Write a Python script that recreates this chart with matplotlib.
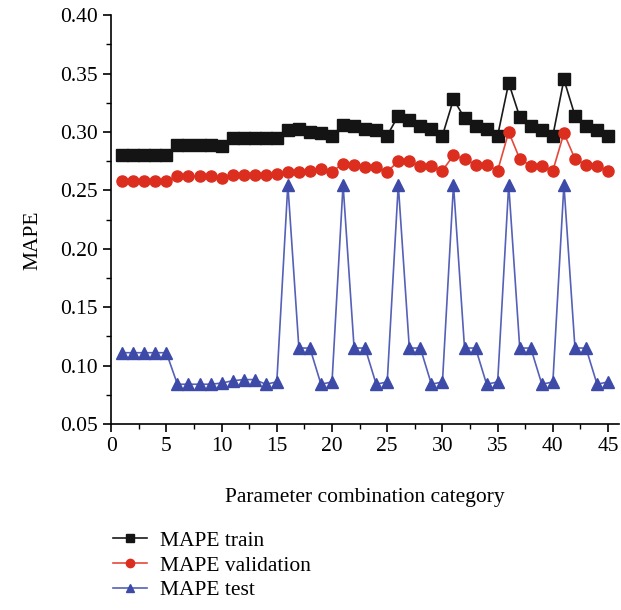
import matplotlib.pyplot as plt
from matplotlib.ticker import MultipleLocator

plt.rcParams['font.family'] = ['Liberation Serif', 'DejaVu Serif']

# Dados
categoria = list(range(1, 46))

mape_train = [0.280, 0.280, 0.280, 0.280, 0.280,
              0.289, 0.289, 0.289, 0.289, 0.288,
              0.295, 0.295, 0.295, 0.295, 0.295,
              0.302, 0.303, 0.300, 0.299, 0.297,
              0.306, 0.305, 0.303, 0.302, 0.297,
              0.314, 0.310, 0.305, 0.303, 0.297,
              0.328, 0.312, 0.305, 0.303, 0.297,
              0.342, 0.313, 0.305, 0.302, 0.297,
              0.345, 0.314, 0.305, 0.302, 0.297]

mape_val = [0.258, 0.258, 0.258, 0.258, 0.258,
            0.262, 0.262, 0.262, 0.262, 0.261,
            0.263, 0.263, 0.263, 0.263, 0.264,
            0.266, 0.266, 0.267, 0.268, 0.266,
            0.273, 0.272, 0.270, 0.270, 0.266,
            0.275, 0.275, 0.271, 0.271, 0.267,
            0.280, 0.277, 0.272, 0.272, 0.267,
            0.300, 0.277, 0.271, 0.271, 0.267,
            0.299, 0.277, 0.272, 0.271, 0.267]

mape_test = [0.111, 0.111, 0.111, 0.111, 0.111,
             0.084, 0.084, 0.084, 0.084, 0.085,
             0.087, 0.088, 0.088, 0.084, 0.086,
             0.255, 0.115, 0.115, 0.084, 0.086,
             0.255, 0.115, 0.115, 0.084, 0.086,
             0.255, 0.115, 0.115, 0.084, 0.086,
             0.255, 0.115, 0.115, 0.084, 0.086,
             0.255, 0.115, 0.115, 0.084, 0.086,
             0.255, 0.115, 0.115, 0.084, 0.086]

fig = plt.figure(figsize=(6.21, 6.10), dpi=100)
ax = fig.add_axes([0.179, 0.305, 0.818, 0.670])

ax.plot(categoria, mape_train, color='#1a1a1a', lw=1.2, marker='s', ms=8,
        mfc='#141414', mec='#141414', label='MAPE train')
ax.plot(categoria, mape_val, color='#e5493a', lw=1.2, marker='o', ms=8,
        mfc='#dc2e1e', mec='#dc2e1e', label='MAPE validation')
ax.plot(categoria, mape_test, color='#5560b8', lw=1.2, marker='^', ms=8.5,
        mfc='#3d4aa8', mec='#3d4aa8', label='MAPE test')

ax.set_xlim(0, 46)
ax.set_ylim(0.05, 0.40)
ax.xaxis.set_major_locator(MultipleLocator(5))
ax.xaxis.set_minor_locator(MultipleLocator(2.5))
ax.yaxis.set_major_locator(MultipleLocator(0.05))
ax.yaxis.set_minor_locator(MultipleLocator(0.025))
ax.yaxis.set_major_formatter(plt.FormatStrFormatter('%.2f'))

ax.spines['top'].set_visible(False)
ax.spines['right'].set_visible(False)
for s in ['left', 'bottom']:
    ax.spines[s].set_linewidth(1.2)
ax.tick_params(which='major', direction='out', length=6, width=1.2, labelsize=15.5)
ax.tick_params(which='minor', direction='out', length=3.5, width=1.0)

ax.set_xlabel('Parameter combination category', fontsize=15.5)
ax.set_ylabel('MAPE', fontsize=15.5)
ax.xaxis.set_label_coords(0.50, -0.157)
ax.yaxis.set_label_coords(-0.135, 0.45)

fig.legend(loc='upper left', bbox_to_anchor=(0.168, 0.144), frameon=False,
           fontsize=15.5, handlelength=1.6, handletextpad=0.6,
           labelspacing=0.22, borderaxespad=0, markerscale=0.75)

fig.savefig('out.png', dpi=100)
